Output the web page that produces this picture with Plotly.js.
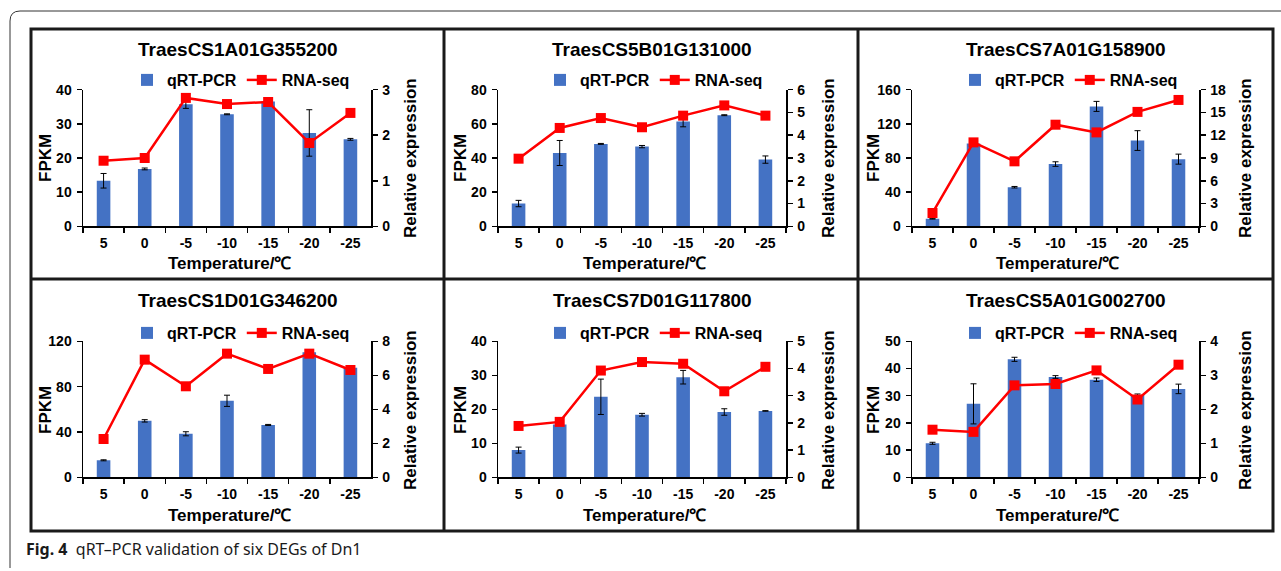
<!DOCTYPE html>
<html><head><meta charset="utf-8">
<script src="https://cdn.plot.ly/plotly-3.0.1.min.js"></script>
<style>html,body{margin:0;padding:0;background:#fff;} #chart{width:1281px;height:571px;}</style>
</head><body><div id="chart"></div>
<script>
// ---- data ----
const temperatures = ['5', '0', '-5', '-10', '-15', '-20', '-25'];
const geneNames = ['TraesCS1A01G355200', 'TraesCS5B01G131000', 'TraesCS7A01G158900',
                   'TraesCS1D01G346200', 'TraesCS7D01G117800', 'TraesCS5A01G002700'];
const barName = 'qRT-PCR';
const lineName = 'RNA-seq';

// qRT-PCR relative expression (bars, right axis), its error, RNA-seq FPKM (line, left axis)
const qpcr1 = [1.0, 1.26, 2.68, 2.46, 2.74, 2.05, 1.91];
const qpcrErr1 = [0.16, 0.02, 0.09, 0.01, 0.04, 0.51, 0.02];
const fpkm1 = [19.2, 20.0, 37.6, 35.8, 36.4, 24.4, 33.2];

const qpcr2 = [1.0, 3.22, 3.62, 3.5, 4.6, 4.88, 2.93];
const qpcrErr2 = [0.14, 0.55, 0.02, 0.05, 0.23, 0.02, 0.16];
const fpkm2 = [39.6, 57.6, 63.4, 58.0, 64.8, 70.8, 64.8];

const qpcr3 = [1.0, 10.9, 5.15, 8.2, 15.8, 11.3, 8.85];
const qpcrErr3 = [0.05, 0.1, 0.1, 0.3, 0.66, 1.3, 0.66];
const fpkm3 = [15.6, 98.3, 76.1, 119, 110, 134, 148];

const qpcr4 = [1.0, 3.32, 2.56, 4.5, 3.08, 7.35, 6.45];
const qpcrErr4 = [0.03, 0.07, 0.12, 0.33, 0.03, 0.05, 0.05];
const fpkm4 = [33.8, 103.8, 80.3, 109.1, 95.6, 109.1, 94.7];

const qpcr5 = [1.0, 1.94, 2.96, 2.3, 3.68, 2.4, 2.44];
const qpcrErr5 = [0.11, 0.02, 0.65, 0.05, 0.25, 0.12, 0.01];
const fpkm5 = [15.1, 16.3, 31.4, 33.9, 33.4, 25.3, 32.5];

const qpcr6 = [1.0, 2.16, 3.47, 2.95, 2.87, 2.42, 2.6];
const qpcrErr6 = [0.03, 0.59, 0.06, 0.04, 0.05, 0.03, 0.14];
const fpkm6 = [17.5, 16.7, 33.8, 34.3, 39.3, 28.6, 41.4];

// axis scales (tick ranges as in the reference)
const fpkmMax = [40, 80, 160, 120, 40, 50];
const fpkmStep = [10, 20, 40, 40, 10, 10];
const relMax = [3, 6, 18, 8, 5, 4];
const relStep = [1, 1, 3, 2, 1, 1];

const qpcrAll = [qpcr1, qpcr2, qpcr3, qpcr4, qpcr5, qpcr6];
const errAll = [qpcrErr1, qpcrErr2, qpcrErr3, qpcrErr4, qpcrErr5, qpcrErr6];
const fpkmAll = [fpkm1, fpkm2, fpkm3, fpkm4, fpkm5, fpkm6];

// ---- layout geometry (pixels) ----
const W = 1281, H = 571;
const px = v => v / W;
const py = v => 1 - v / H;
const xLeft = [83, 498, 912], xRight = [371, 786, 1199];
const yTop = [89.7, 341.3], yBot = [226.3, 477.3];
const titleX = [238, 652, 1066], titleY = [50, 300];
const legendX = [241, 654, 1069], legendY = [80, 333];
const fpkmTitleX = [45, 460, 873], relTitleX = [410, 828, 1245];
const sideTitleY = [158, 410];
const tempTitleY = [263, 515];

const FONT = 'Liberation Sans, Arial, sans-serif';
const tickFont = {family: FONT, size: 14, color: '#000', weight: 'bold'};

const traces = [];
const layout = {
  width: W, height: H,
  margin: {l: 0, r: 0, t: 0, b: 0},
  paper_bgcolor: '#fff', plot_bgcolor: 'rgba(0,0,0,0)',
  bargap: 0.67,
  showlegend: true,
  annotations: [], shapes: []
};

for (let i = 0; i < 6; i++) {
  const col = i % 3, row = Math.floor(i / 3);
  const xa = i === 0 ? 'x' : 'x' + (i + 1);
  const yb = 'y' + (2 * i + 1 === 1 ? '' : 2 * i + 1);
  const yo = 'y' + (2 * i + 2);
  const lg = i === 0 ? 'legend' : 'legend' + (i + 1);

  traces.push({
    type: 'bar', name: barName, x: temperatures, y: qpcrAll[i],
    xaxis: xa, yaxis: yb, legend: lg,
    marker: {color: '#4472C4', line: {width: 0}},
    error_y: {type: 'data', array: errAll[i], visible: true, color: '#000', thickness: 1, width: 3},
    hoverinfo: 'skip'
  });
  traces.push({
    type: 'scatter', mode: 'lines+markers', name: lineName, x: temperatures, y: fpkmAll[i],
    xaxis: xa, yaxis: yo, legend: lg, cliponaxis: false,
    line: {color: '#FF0000', width: 2.5},
    marker: {symbol: 'square', size: 10, color: '#FF0000'},
    hoverinfo: 'skip'
  });

  const common = {
    showline: true, linecolor: '#000', linewidth: 1.5,
    ticks: 'outside', ticklen: 5, tickwidth: 1.5, tickcolor: '#000',
    tickfont: tickFont, showgrid: false, zeroline: false, fixedrange: true
  };
  const xKey = i === 0 ? 'xaxis' : 'xaxis' + (i + 1);
  const ybKey = i === 0 ? 'yaxis' : 'yaxis' + (2 * i + 1);
  const yoKey = 'yaxis' + (2 * i + 2);
  layout[xKey] = Object.assign({}, common, {
    domain: [px(xLeft[col]), px(xRight[col])], anchor: yb,
    type: 'category', categoryorder: 'array', categoryarray: temperatures,
    tickson: 'boundaries', range: [-0.5, 6.5], ticklabelstandoff: 3
  });
  layout[ybKey] = Object.assign({}, common, {
    domain: [py(yBot[row]), py(yTop[row])], anchor: xa, side: 'right',
    range: [0, relMax[i]], dtick: relStep[i], tick0: 0, ticklabelstandoff: 2
  });
  layout[yoKey] = Object.assign({}, common, {
    anchor: xa, side: 'left', overlaying: yb,
    range: [0, fpkmMax[i]], dtick: fpkmStep[i], tick0: 0, ticklabelstandoff: 2
  });
  layout[lg] = {
    orientation: 'h', x: px(legendX[col]), y: py(legendY[row]),
    xanchor: 'center', yanchor: 'middle', bgcolor: 'rgba(0,0,0,0)',
    font: {family: FONT, size: 16, color: '#000', weight: 'bold'},
    itemclick: false, itemdoubleclick: false, traceorder: 'normal'
  };

  const ann = layout.annotations;
  ann.push({text: geneNames[i], xref: 'paper', yref: 'paper', x: px(titleX[col]), y: py(titleY[row]),
    xanchor: 'center', yanchor: 'middle', showarrow: false,
    font: {family: FONT, size: 19, color: '#000', weight: 'bold'}});
  ann.push({text: 'Temperature/℃', xref: 'paper', yref: 'paper',
    x: px((xLeft[col] + xRight[col]) / 2 + 2), y: py(tempTitleY[row]),
    xanchor: 'center', yanchor: 'middle', showarrow: false,
    font: {family: FONT, size: 17, color: '#000', weight: 'bold'}});
  ann.push({text: 'FPKM', xref: 'paper', yref: 'paper', x: px(fpkmTitleX[col]), y: py(sideTitleY[row]),
    xanchor: 'center', yanchor: 'middle', showarrow: false, textangle: -90,
    font: {family: FONT, size: 17, color: '#000', weight: 'bold'}});
  ann.push({text: 'Relative expression', xref: 'paper', yref: 'paper', x: px(relTitleX[col]), y: py(sideTitleY[row]),
    xanchor: 'center', yanchor: 'middle', showarrow: false, textangle: -90,
    font: {family: FONT, size: 17, color: '#000', weight: 'bold'}});
}

// caption
layout.annotations.push({
  text: '<b>Fig. 4</b>  qRT–PCR validation of six DEGs of Dn1',
  xref: 'paper', yref: 'paper', x: px(24), y: py(549), xanchor: 'left', yanchor: 'middle',
  showarrow: false, font: {family: 'Noto Sans, Open Sans, sans-serif', size: 16, color: '#1a1a1a'}
});

// frames
const S = layout.shapes;
const frameLine = {color: '#1a1a1a', width: 3};
S.push({type: 'rect', xref: 'paper', yref: 'paper', x0: px(31), x1: px(1273), y0: py(531), y1: py(29), line: frameLine});
S.push({type: 'line', xref: 'paper', yref: 'paper', x0: px(444), x1: px(444), y0: py(531), y1: py(29), line: frameLine});
S.push({type: 'line', xref: 'paper', yref: 'paper', x0: px(858), x1: px(858), y0: py(531), y1: py(29), line: frameLine});
S.push({type: 'line', xref: 'paper', yref: 'paper', x0: px(31), x1: px(1273), y0: py(279), y1: py(279), line: frameLine});
S.push({type: 'path', xref: 'paper', yref: 'paper',
  path: `M ${px(10)},${py(568)} L ${px(10)},${py(21)} Q ${px(10)},${py(11)} ${px(20)},${py(11)} L ${px(1281)},${py(11)}`,
  line: {color: '#333', width: 1}});

Plotly.newPlot('chart', traces, layout, {staticPlot: true, displayModeBar: false});
</script>
</body></html>
